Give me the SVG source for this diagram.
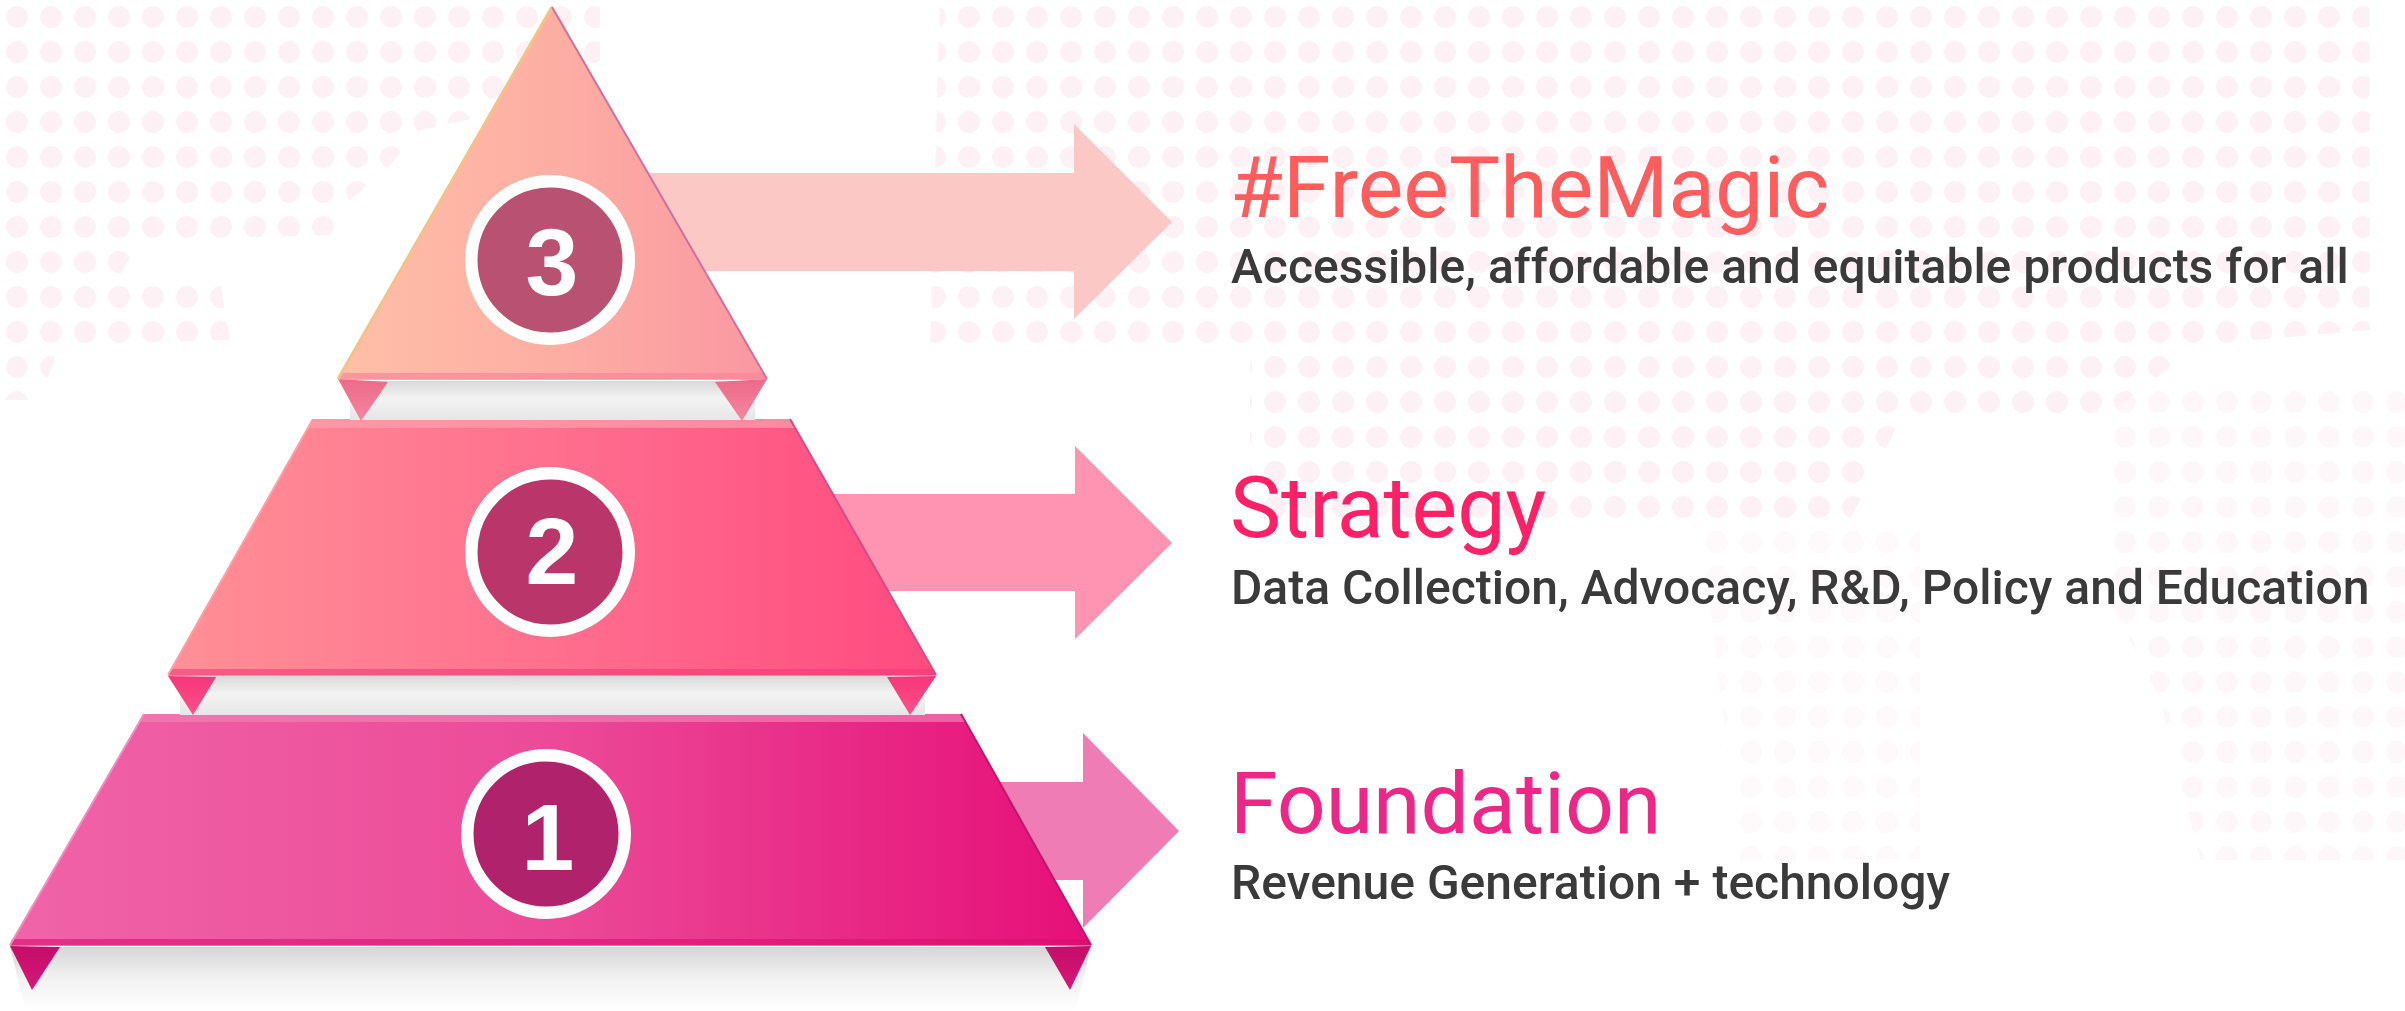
<svg xmlns="http://www.w3.org/2000/svg" width="2405" height="1011" viewBox="0 0 2405 1011">
<defs>
<style>
.title{font-family:Roboto,"Liberation Sans",sans-serif;font-size:86px;font-weight:400}
.sub{font-family:Roboto,"Liberation Sans",sans-serif;font-size:48px;font-weight:500;fill:#3a3a3a}
.num{font-family:"Liberation Sans",Arial,sans-serif;font-size:95px;font-weight:700;fill:#ffffff;text-anchor:middle}
.ring{stroke:#ffffff;stroke-width:12.5}
</style>
<pattern id="dots" width="34" height="35" patternUnits="userSpaceOnUse">
<circle cx="17" cy="17" r="11" fill="#fce8ef"/>
</pattern>
<linearGradient id="gTri" gradientUnits="userSpaceOnUse" x1="338" y1="0" x2="767" y2="0">
<stop offset="0" stop-color="#ffbfa8"/><stop offset="0.5" stop-color="#fdaea3"/><stop offset="1" stop-color="#fa97a2"/>
</linearGradient>
<linearGradient id="gMid" gradientUnits="userSpaceOnUse" x1="168" y1="0" x2="936" y2="0">
<stop offset="0" stop-color="#ff9096"/><stop offset="0.5" stop-color="#ff6f8e"/><stop offset="1" stop-color="#ff4a80"/>
</linearGradient>
<linearGradient id="gBot" gradientUnits="userSpaceOnUse" x1="10" y1="0" x2="1091" y2="0">
<stop offset="0" stop-color="#f064a9"/><stop offset="0.5" stop-color="#ec4a98"/><stop offset="1" stop-color="#e60f78"/>
</linearGradient>
<linearGradient id="gGray" x1="0" y1="0" x2="0" y2="1">
<stop offset="0" stop-color="#d9d9d9"/><stop offset="0.45" stop-color="#f3f3f3"/><stop offset="1" stop-color="#e6e6e6"/>
</linearGradient>
<linearGradient id="gShadow" x1="0" y1="0" x2="0" y2="1">
<stop offset="0" stop-color="#d6d6d6"/><stop offset="0.5" stop-color="#f2f2f2"/><stop offset="1" stop-color="#ffffff"/>
</linearGradient>
<linearGradient id="gTab3" x1="0" y1="0" x2="0" y2="1">
<stop offset="0" stop-color="#ec6a8a"/><stop offset="1" stop-color="#f5869e"/>
</linearGradient>
<linearGradient id="gTab2" x1="0" y1="0" x2="0" y2="1">
<stop offset="0" stop-color="#f5377a"/><stop offset="1" stop-color="#ff4f88"/>
</linearGradient>
<linearGradient id="gTab1" x1="0" y1="0" x2="0" y2="1">
<stop offset="0" stop-color="#c40d68"/><stop offset="1" stop-color="#d8177a"/>
</linearGradient>
</defs>
<rect width="2405" height="1011" fill="#ffffff"/>
<g id="background" opacity="0.6">
<path d="M0,0 L600,0 L600,60 L560,100 L420,130 L390,165 L350,200 L330,235 L140,240 L120,275 L220,280 L230,340 L60,345 L40,400 L0,400 Z" fill="url(#dots)"/>
<path d="M940,0 L2370,0 L2370,330 L2200,345 L2100,420 L1900,420 L1850,520 L1250,520 L1250,345 L930,345 Z" fill="url(#dots)"/>
<path d="M2110,380 L2405,380 L2405,860 L2200,860 L2160,700 L2110,600 Z" fill="url(#dots)" opacity="0.5"/>
<path d="M1700,520 L1920,520 L1920,860 L1740,860 Z" fill="url(#dots)" opacity="0.4"/>
</g>
<g id="connectors">
<path id="arrow3" d="M600,173 L1074,173 L1074,124 L1172,222 L1074,319 L1074,271 L600,271 Z" fill="#fcc8c5"/>
<path id="arrow2" d="M700,494 L1075,494 L1075,446 L1172,543 L1075,639 L1075,591 L700,591 Z" fill="#ff93b2"/>
<path id="arrow1" d="M900,782 L1083,782 L1083,733 L1179,831 L1083,928 L1083,880 L900,880 Z" fill="#f07cb6"/>
</g>
<g id="node-tier1">
<path d="M10,947 L1091,947 L1075,1011 L26,1011 Z" fill="url(#gShadow)"/>
<path d="M10,946 L60,947 L32,990 Z" fill="url(#gTab1)"/>
<path d="M1091,946 L1045,947 L1070,990 Z" fill="url(#gTab1)"/>
<path d="M144,714 L961,714 L1091,945 L10,945 Z" fill="url(#gBot)"/>
<path d="M144,714 L961,714 L965,722 L140,722 Z" fill="#f27db4" opacity="0.7"/>
<path d="M12,939 L1088,939 L1091,946 L10,946 Z" fill="#d80f70" opacity="0.6"/>
<path d="M144,714 L10,945" stroke="#f58cc0" stroke-width="2" fill="none"/>
<path d="M961,714 L1091,945" stroke="#c2136f" stroke-width="2" fill="none"/>
<circle cx="546" cy="834" r="78.75" fill="#b0226b" class="ring"/>
<text class="num" x="548" y="870">1</text>
</g>
<g id="node-tier2">
<rect x="180" y="676" width="745" height="39" fill="url(#gGray)"/>
<path d="M168,676 L216,677 L193,715 Z" fill="url(#gTab2)"/>
<path d="M936,676 L887,677 L910,715 Z" fill="url(#gTab2)"/>
<path d="M313,419 L790,419 L936,675 L168,675 Z" fill="url(#gMid)"/>
<path d="M313,419 L790,419 L795,428 L308,428 Z" fill="#ffa0ab" opacity="0.7"/>
<path d="M171,669 L933,669 L936,676 L168,676 Z" fill="#f03a78" opacity="0.6"/>
<path d="M313,419 L168,675" stroke="#ff9fa8" stroke-width="2" fill="none"/>
<path d="M790,419 L936,675" stroke="#d84a85" stroke-width="2" fill="none"/>
<circle cx="550" cy="552" r="78.75" fill="#b9356a" class="ring"/>
<text class="num" x="552" y="584">2</text>
</g>
<g id="node-tier3">
<rect x="350" y="381" width="405" height="39" fill="url(#gGray)"/>
<path d="M338,379 L388,382 L361,421 Z" fill="url(#gTab3)"/>
<path d="M767,379 L715,382 L742,421 Z" fill="url(#gTab3)"/>
<path d="M552,7 L767,379 L338,379 Z" fill="url(#gTri)"/>
<path d="M341,373 L764,373 L767,380 L338,380 Z" fill="#f98499" opacity="0.7"/>
<path d="M552,7 L338,379" stroke="#f6c089" stroke-width="3" fill="none"/>
<path d="M552,7 L767,379" stroke="#cf6fa0" stroke-width="2" fill="none"/>
<circle cx="550" cy="260" r="78.75" fill="#b95173" class="ring"/>
<text class="num" x="552" y="295">3</text>
</g>
<g id="node-label3">
<text class="title" x="1230" y="217" fill="#ff5d5d">#FreeTheMagic</text>
<text class="sub" x="1231" y="283">Accessible, affordable and equitable products for all</text>
</g>
<g id="node-label2">
<text class="title" x="1230" y="537" fill="#ff2066">Strategy</text>
<text class="sub" x="1231" y="604">Data Collection, Advocacy, R&amp;D, Policy and Education</text>
</g>
<g id="node-label1">
<text class="title" x="1230" y="833" fill="#ec2788">Foundation</text>
<text class="sub" x="1231" y="899">Revenue Generation + technology</text>
</g>
</svg>
